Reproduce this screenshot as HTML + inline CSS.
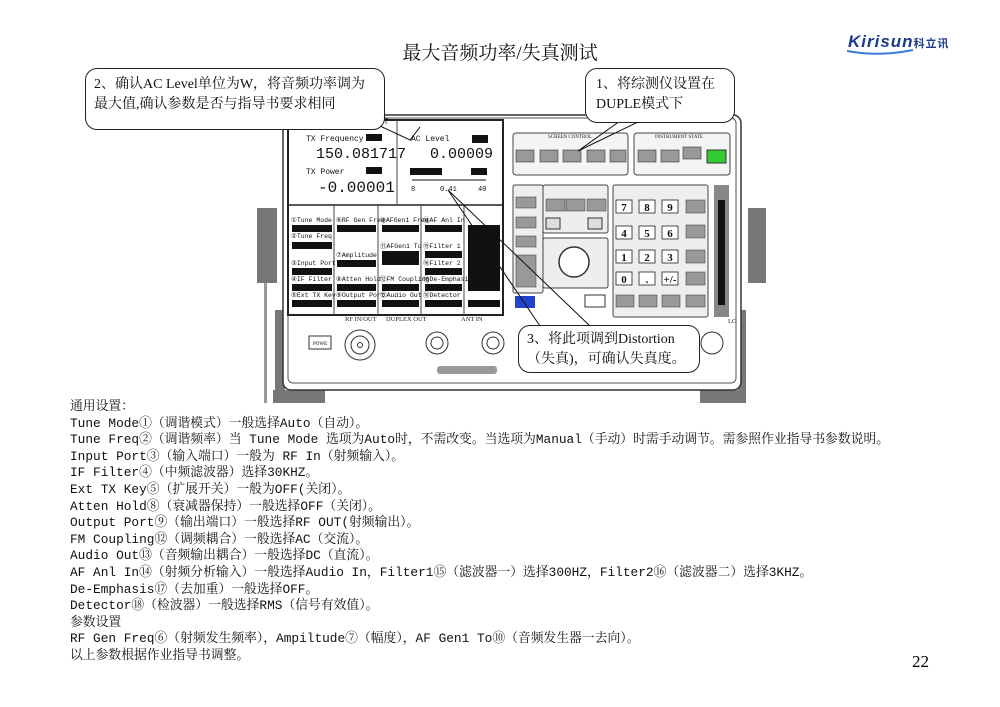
<!DOCTYPE html>
<html><head><meta charset="utf-8">
<style>
body{margin:0;width:1000px;height:707px;background:#fff;position:relative;overflow:hidden;font-family:"Liberation Serif","Noto Serif CJK SC",serif;}
.abs{position:absolute}
.title{left:0;width:1000px;top:38px;text-align:center;font-size:19px;color:#111}
.txt{left:70px;top:399px;font-size:12.8px;line-height:16.6px;color:#111;white-space:nowrap;font-family:"Liberation Mono","Noto Serif CJK SC",monospace}
.call{position:absolute;border:1px solid #222;border-radius:12px;background:#fff;font-size:14px;line-height:20px;color:#111}
</style></head><body>
<div class="abs title">最大音频功率/失真测试</div>
<div class="abs" style="left:848px;top:32px;font:italic bold 17px 'Liberation Sans',sans-serif;color:#1a3a8a;letter-spacing:1px">Kirisun<span style="font:bold 11px 'Noto Sans CJK SC',sans-serif;color:#1a3a8a">科立讯</span></div>
<svg class="abs" style="left:845px;top:48px" width="70" height="8"><path d="M2 3 Q35 9 68 2" stroke="#3a7ad8" stroke-width="2" fill="none"/></svg>

<svg class="abs" style="left:0;top:0" width="1000" height="410">
 <rect x="257" y="208" width="20" height="75" fill="#777"/>
 <rect x="275" y="310" width="10" height="93" fill="#777"/>
 <rect x="273" y="390" width="52" height="13" fill="#777"/>
 <rect x="264" y="283" width="3" height="120" fill="#999"/>
 <rect x="748" y="208" width="18" height="75" fill="#777"/>
 <rect x="738" y="310" width="8" height="93" fill="#777"/>
 <rect x="700" y="390" width="46" height="13" fill="#777"/>
 <rect x="283" y="115" width="458" height="275" rx="8" fill="#fff" stroke="#333" stroke-width="1.5"/>
 <rect x="288" y="118" width="448" height="265" rx="5" fill="none" stroke="#555"/>
 <rect x="288" y="120" width="215" height="195" fill="#fff" stroke="#222" stroke-width="2"/>
 <line x1="288" y1="205" x2="503" y2="205" stroke="#222" stroke-width="1.5"/>
 <line x1="397" y1="120" x2="397" y2="205" stroke="#444"/>
 <g stroke="#444"><line x1="334" y1="205" x2="334" y2="315"/><line x1="378" y1="205" x2="378" y2="315"/><line x1="421" y1="205" x2="421" y2="315"/><line x1="464" y1="205" x2="464" y2="315"/></g>
 <text x="350" y="124" font-family="Liberation Mono" font-size="8" fill="#222">LEX TEST</text>
 <g font-family="Liberation Mono" fill="#111">
  <text x="306" y="141" font-size="8">TX Frequency</text><rect x="366" y="134" width="16" height="7" fill="#111"/>
  <text x="316" y="158" font-size="15">150.081717</text>
  <text x="306" y="174" font-size="8">TX Power</text><rect x="366" y="167" width="16" height="7" fill="#111"/>
  <text x="318" y="192" font-size="16">-0.00001</text>
  <text x="411" y="141" font-size="8">AC Level</text><rect x="472" y="135" width="16" height="8" fill="#111"/>
  <text x="430" y="158" font-size="15">0.00009</text>
  <rect x="410" y="168" width="32" height="7" fill="#111"/><rect x="471" y="168" width="16" height="7" fill="#111"/>
  <line x1="412" y1="180" x2="486" y2="180" stroke="#111"/>
  <text x="411" y="191" font-size="7">8</text><text x="440" y="191" font-size="7">0.41</text><text x="478" y="191" font-size="7">40</text>
 </g>
 <g font-family="Liberation Mono" font-size="6.5" fill="#111">
  <text x="291" y="222">①Tune Mode</text><rect x="292" y="225" width="40" height="7"/>
  <text x="291" y="238">②Tune Freq</text><rect x="292" y="242" width="40" height="7"/>
  <text x="291" y="265">③Input Port</text><rect x="292" y="268" width="40" height="7"/>
  <text x="291" y="281">④IF Filter</text><rect x="292" y="284" width="40" height="7"/>
  <text x="291" y="297">⑤Ext TX Key</text><rect x="292" y="300" width="40" height="7"/>
  <text x="336" y="222">⑥RF Gen Freq</text><rect x="337" y="225" width="39" height="7"/>
  <text x="336" y="257">⑦Amplitude</text><rect x="337" y="260" width="39" height="7"/>
  <text x="336" y="281">⑧Atten Hold</text><rect x="337" y="284" width="39" height="7"/>
  <text x="336" y="297">⑨Output Port</text><rect x="337" y="300" width="39" height="7"/>
  <text x="380" y="222">⑩AFGen1 Freq</text><rect x="382" y="225" width="37" height="7"/>
  <text x="380" y="248">⑪AFGen1 To</text><rect x="382" y="251" width="37" height="14"/>
  <text x="380" y="281">⑫FM Coupling</text><rect x="382" y="284" width="37" height="7"/>
  <text x="380" y="297">⑬Audio Out</text><rect x="382" y="300" width="37" height="7"/>
  <text x="423" y="222">⑭AF Anl In</text><rect x="425" y="225" width="37" height="7"/>
  <text x="423" y="248">⑮Filter 1</text><rect x="425" y="251" width="37" height="7"/>
  <text x="423" y="265">⑯Filter 2</text><rect x="425" y="268" width="37" height="7"/>
  <text x="423" y="281">⑰De-Emphasis</text><rect x="425" y="284" width="37" height="7"/>
  <text x="423" y="297">⑱Detector</text><rect x="425" y="300" width="37" height="7"/>
  <rect x="468" y="225" width="32" height="66"/><rect x="468" y="300" width="32" height="7"/>
 </g>
 <rect x="513" y="133" width="115" height="42" rx="3" fill="#f4f4f4" stroke="#444"/>
 <rect x="634" y="133" width="96" height="42" rx="3" fill="#f4f4f4" stroke="#444"/>
 <g font-family="Liberation Serif" font-size="5" fill="#222"><text x="548" y="138">SCREEN CONTROL</text><text x="655" y="138">INSTRUMENT STATE</text><text x="650" y="189">DATA</text><text x="548" y="190">DATA FUNCTIONS</text><text x="556" y="243">CURSOR CON-</text><text x="563" y="285">PUSH TO</text></g>
 <g fill="#999" stroke="#333" stroke-width="0.6">
  <rect x="516" y="150" width="18" height="12"/><rect x="540" y="150" width="18" height="12"/><rect x="563" y="150" width="18" height="12"/><rect x="587" y="150" width="18" height="12"/><rect x="610" y="150" width="16" height="12"/>
  <rect x="638" y="150" width="18" height="12"/><rect x="661" y="150" width="18" height="12"/><rect x="683" y="147" width="18" height="12"/>
 </g>
 <rect x="707" y="150" width="19" height="13" fill="#3c3" stroke="#333"/>
 <rect x="513" y="185" width="30" height="108" rx="2" fill="#eee" stroke="#444"/>
 <g fill="#999" stroke="#333" stroke-width="0.5"><rect x="516" y="197" width="20" height="11"/><rect x="516" y="217" width="20" height="11"/><rect x="516" y="236" width="20" height="11"/><rect x="516" y="255" width="20" height="32"/></g>
 <rect x="515" y="296" width="20" height="12" fill="#2244cc"/>
 <rect x="543" y="185" width="65" height="48" rx="2" fill="#eee" stroke="#444"/>
 <g fill="#999" stroke="#333" stroke-width="0.5"><rect x="546" y="199" width="19" height="12"/><rect x="566" y="199" width="19" height="12"/><rect x="587" y="199" width="19" height="12"/></g>
 <rect x="546" y="218" width="14" height="11" fill="#ddd" stroke="#333"/><rect x="588" y="218" width="14" height="11" fill="#ddd" stroke="#333"/>
 <rect x="543" y="238" width="65" height="50" rx="2" fill="#eee" stroke="#444"/>
 <circle cx="574" cy="262" r="15" fill="#fff" stroke="#333" stroke-width="1.5"/>
 <rect x="585" y="295" width="20" height="12" fill="#fff" stroke="#333"/>
 <rect x="613" y="185" width="95" height="132" rx="2" fill="#eee" stroke="#444"/>
 <g fill="#fff" stroke="#222" stroke-width="0.8">
  <rect x="616" y="200" width="16" height="13"/><rect x="639" y="200" width="16" height="13"/><rect x="662" y="200" width="16" height="13"/>
  <rect x="616" y="226" width="16" height="13"/><rect x="639" y="226" width="16" height="13"/><rect x="662" y="226" width="16" height="13"/>
  <rect x="616" y="250" width="16" height="13"/><rect x="639" y="250" width="16" height="13"/><rect x="662" y="250" width="16" height="13"/>
  <rect x="616" y="272" width="16" height="13"/><rect x="639" y="272" width="16" height="13"/><rect x="662" y="272" width="16" height="13"/>
 </g>
 <g fill="#999" stroke="#333" stroke-width="0.5"><rect x="686" y="200" width="19" height="13"/><rect x="686" y="225" width="19" height="13"/><rect x="686" y="250" width="19" height="13"/><rect x="686" y="272" width="19" height="13"/><rect x="616" y="295" width="18" height="12"/><rect x="639" y="295" width="18" height="12"/><rect x="662" y="295" width="18" height="12"/><rect x="686" y="295" width="19" height="12"/></g>
 <g font-family="Liberation Serif" font-size="11" font-weight="bold" fill="#111" text-anchor="middle"><text x="624" y="211">7</text><text x="647" y="211">8</text><text x="670" y="211">9</text><text x="624" y="237">4</text><text x="647" y="237">5</text><text x="670" y="237">6</text><text x="624" y="261">1</text><text x="647" y="261">2</text><text x="670" y="261">3</text><text x="624" y="283">0</text><text x="647" y="283">.</text><text x="670" y="283">+/-</text></g>
 <rect x="714" y="185" width="15" height="132" fill="#888"/><rect x="718" y="200" width="7" height="105" fill="#111"/>
 <g font-family="Liberation Serif" font-size="6.5" fill="#222"><text x="345" y="321">RF IN/OUT</text><text x="386" y="321">DUPLEX OUT</text><text x="461" y="321">ANT IN</text><text x="728" y="323">LO</text></g>
 <rect x="309" y="336" width="22" height="13" fill="#fff" stroke="#333"/><text x="313" y="345" font-size="5" font-family="Liberation Serif">POWE</text>
 <circle cx="360" cy="345" r="15" fill="#fff" stroke="#333"/><circle cx="360" cy="345" r="9" fill="none" stroke="#333"/><circle cx="360" cy="345" r="2.5" fill="none" stroke="#333"/>
 <circle cx="437" cy="343" r="11" fill="#fff" stroke="#333"/><circle cx="437" cy="343" r="6" fill="none" stroke="#333"/>
 <circle cx="493" cy="343" r="11" fill="#fff" stroke="#333"/><circle cx="493" cy="343" r="6" fill="none" stroke="#333"/>
 <circle cx="712" cy="343" r="11" fill="#fff" stroke="#333"/>
 <rect x="437" y="366" width="60" height="8" rx="3" fill="#999"/>
 <polyline points="420,127 410,140 380,126" fill="none" stroke="#111"/>
 <polyline points="620,121 578,151 640,121" fill="none" stroke="#111"/>
 <polyline points="540,326 448,190 590,326" fill="none" stroke="#111"/>
</svg>

<div class="call" style="left:85px;top:68px;width:300px;height:62px;padding:6px 8px;box-sizing:border-box">2、确认AC Level单位为W，将音频功率调为最大值,确认参数是否与指导书要求相同</div>
<div class="call" style="left:585px;top:68px;width:150px;height:55px;padding:6px 10px;box-sizing:border-box">1、将综测仪设置在DUPLE模式下</div>
<div class="call" style="left:518px;top:325px;width:182px;height:48px;padding:4px 8px;box-sizing:border-box">3、将此项调到Distortion<br>（失真)，可确认失真度。</div>

<div class="abs txt">通用设置：<br>
Tune Mode①（调谐模式）一般选择Auto（自动）。<br>
Tune Freq②（调谐频率）当 Tune Mode 选项为Auto时，不需改变。当选项为Manual（手动）时需手动调节。需参照作业指导书参数说明。<br>
Input Port③（输入端口）一般为 RF In（射频输入）。<br>
IF Filter④（中频滤波器）选择30KHZ。<br>
Ext TX Key⑤（扩展开关）一般为OFF(关闭）。<br>
Atten Hold⑧（衰减器保持）一般选择OFF（关闭）。<br>
Output Port⑨（输出端口）一般选择RF OUT(射频输出）。<br>
FM Coupling⑫（调频耦合）一般选择AC（交流）。<br>
Audio Out⑬（音频输出耦合）一般选择DC（直流）。<br>
AF Anl In⑭（射频分析输入）一般选择Audio In，Filter1⑮（滤波器一）选择300HZ，Filter2⑯（滤波器二）选择3KHZ。<br>
De-Emphasis⑰（去加重）一般选择OFF。<br>
Detector⑱（检波器）一般选择RMS（信号有效值）。<br>
参数设置<br>
RF Gen Freq⑥（射频发生频率），Ampiltude⑦（幅度），AF Gen1 To⑩（音频发生器一去向）。<br>
以上参数根据作业指导书调整。</div>
<div class="abs" style="left:912px;top:652px;font-size:17px">22</div>
</body></html>
